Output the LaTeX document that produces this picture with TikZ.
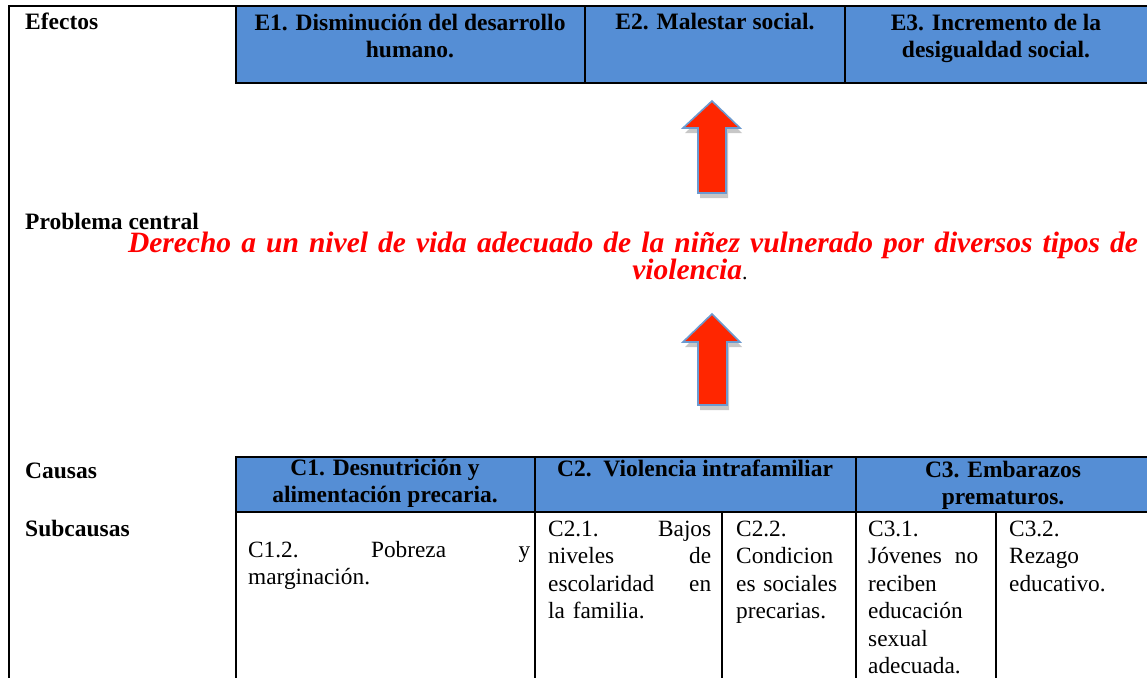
\documentclass[tikz,border=0pt]{standalone}
\usepackage{fontspec}
\setmainfont{Liberation Serif}
\definecolor{cellblue}{HTML}{558ED5}
\definecolor{arrowred}{HTML}{FF2600}
\definecolor{arrowedge}{HTML}{6C9AD0}
\definecolor{probred}{HTML}{FF0000}
\begin{document}
\begin{tikzpicture}[x=1pt,y=-1pt,
  grid/.style={line width=2.4pt, draw=black},
  bluecell/.style={fill=cellblue, draw=black, line width=2.4pt, anchor=north west, inner sep=0pt, outer sep=0pt},
  plaincell/.style={draw=black, line width=2.4pt, anchor=north west, inner sep=0pt, outer sep=0pt},
  lbl/.style={font=\fontsize{23.5}{28}\selectfont\bfseries, anchor=base west, inner sep=0pt},
  hdr/.style={font=\fontsize{23.5}{27}\selectfont\bfseries, align=center, anchor=base, inner sep=0pt},
  subtxt/.style={font=\fontsize{23.3}{27.5}\selectfont, align=left, anchor=base west, inner sep=0pt},
  probfont/.style={font=\fontsize{29.5}{32}\selectfont\bfseries\itshape, text=probred, anchor=base, inner sep=0pt},
  uparrow/.style={fill=arrowred, draw=arrowedge, line width=1.6pt, line join=miter},
  arrowshadow/.style={fill=black, opacity=0.22},
]
\useasboundingbox (0,0) rectangle (1147,677);
\fill[white] (0,0) rectangle (1147,677);

% effects row
\node[bluecell, minimum width=349pt, minimum height=77pt] (e1) at (236,6) {};
\node[bluecell, minimum width=260pt, minimum height=77pt] (e2) at (585,6) {};
\node[bluecell, minimum width=310pt, minimum height=77pt] (e3) at (845,6) {};

% causes header row
\node[bluecell, minimum width=299pt, minimum height=55pt] (c1) at (236,457) {};
\node[bluecell, minimum width=321pt, minimum height=55pt] (c2) at (535,457) {};
\node[bluecell, minimum width=300pt, minimum height=55pt] (c3) at (856,457) {};

% subcauses row
\node[plaincell, minimum width=299pt, minimum height=180pt] (s12) at (236,512) {};
\node[plaincell, minimum width=187pt, minimum height=180pt] (s21) at (535,512) {};
\node[plaincell, minimum width=134pt, minimum height=180pt] (s22) at (722,512) {};
\node[plaincell, minimum width=140pt, minimum height=180pt] (s31) at (856,512) {};
\node[plaincell, minimum width=160pt, minimum height=180pt] (s32) at (996,512) {};

% outer frame
\draw[grid] (9,690) -- (9,6) -- (1150,6);

% arrows
\begin{scope}[shift={(2,5)}]
\fill[arrowshadow] (698,193) -- (698,128) -- (683,128) -- (712,101) -- (740,128) -- (726,128) -- (726,193) -- cycle;
\fill[arrowshadow] (698,405) -- (698,342) -- (683,342) -- (712,314) -- (740,342) -- (727,342) -- (727,405) -- cycle;
\end{scope}
\draw[uparrow] (698,193) -- (698,128) -- (683,128) -- (712,101) -- (740,128) -- (726,128) -- (726,193) -- cycle;
\draw[uparrow] (698,405) -- (698,342) -- (683,342) -- (712,314) -- (740,342) -- (727,342) -- (727,405) -- cycle;

% left labels
\node[lbl] (efectos) at (25,30) {Efectos};
\node[lbl] (problema) at (25,229) {Problema central};
\node[lbl] (causas) at (25,478) {Causas};
\node[lbl] (subcausas) at (25,536) {Subcausas};

% effect texts (base = last line)
\node[hdr] (e1t) at (410,57) {E1. Disminución del desarrollo\\humano.};
\node[hdr] (e2t) at (715,30) {E2. Malestar social.};
\node[hdr] (e3t) at (996,57) {E3. Incremento de la\\desigualdad social.};

% central problem
\node[probfont] (prob1) at (633,252)
  {\makebox[1010pt][s]{Derecho a un nivel de vida adecuado de la niñez vulnerado por diversos tipos de}};
\node[probfont] (prob2) at (690,279)
  {violencia{\color{black}\normalfont\fontsize{22}{26}\selectfont.}};

% cause headers (base = last line)
\node[hdr] (c1t) at (385,502) {C1. Desnutrición y\\alimentación precaria.};
\node[hdr] (c2t) at (695,476) {C2.\ \ Violencia intrafamiliar};
\node[hdr] (c3t) at (1003,504) {C3. Embarazos\\prematuros.};

% subcause texts
\node[subtxt, text width=282pt] (c12t) at (248,557) {C1.2.\hfill Pobreza\hfill y\\marginación.};
\node[subtxt, text width=163pt] (c21t) at (548,536) {C2.1.\hfill Bajos\\niveles\hfill de\\escolaridad\hfill en\\la familia.};
\node[subtxt, text width=118pt] (c22t) at (736,536) {C2.2.\\Condicion\\es sociales\\precarias.};
\node[subtxt, text width=110pt] (c31t) at (868,536) {C3.1.\\Jóvenes\hfill no\\reciben\\educación\\sexual\\adecuada.};
\node[subtxt, text width=130pt] (c32t) at (1009,536) {C3.2.\\Rezago\\educativo.};
\end{tikzpicture}
\end{document}
